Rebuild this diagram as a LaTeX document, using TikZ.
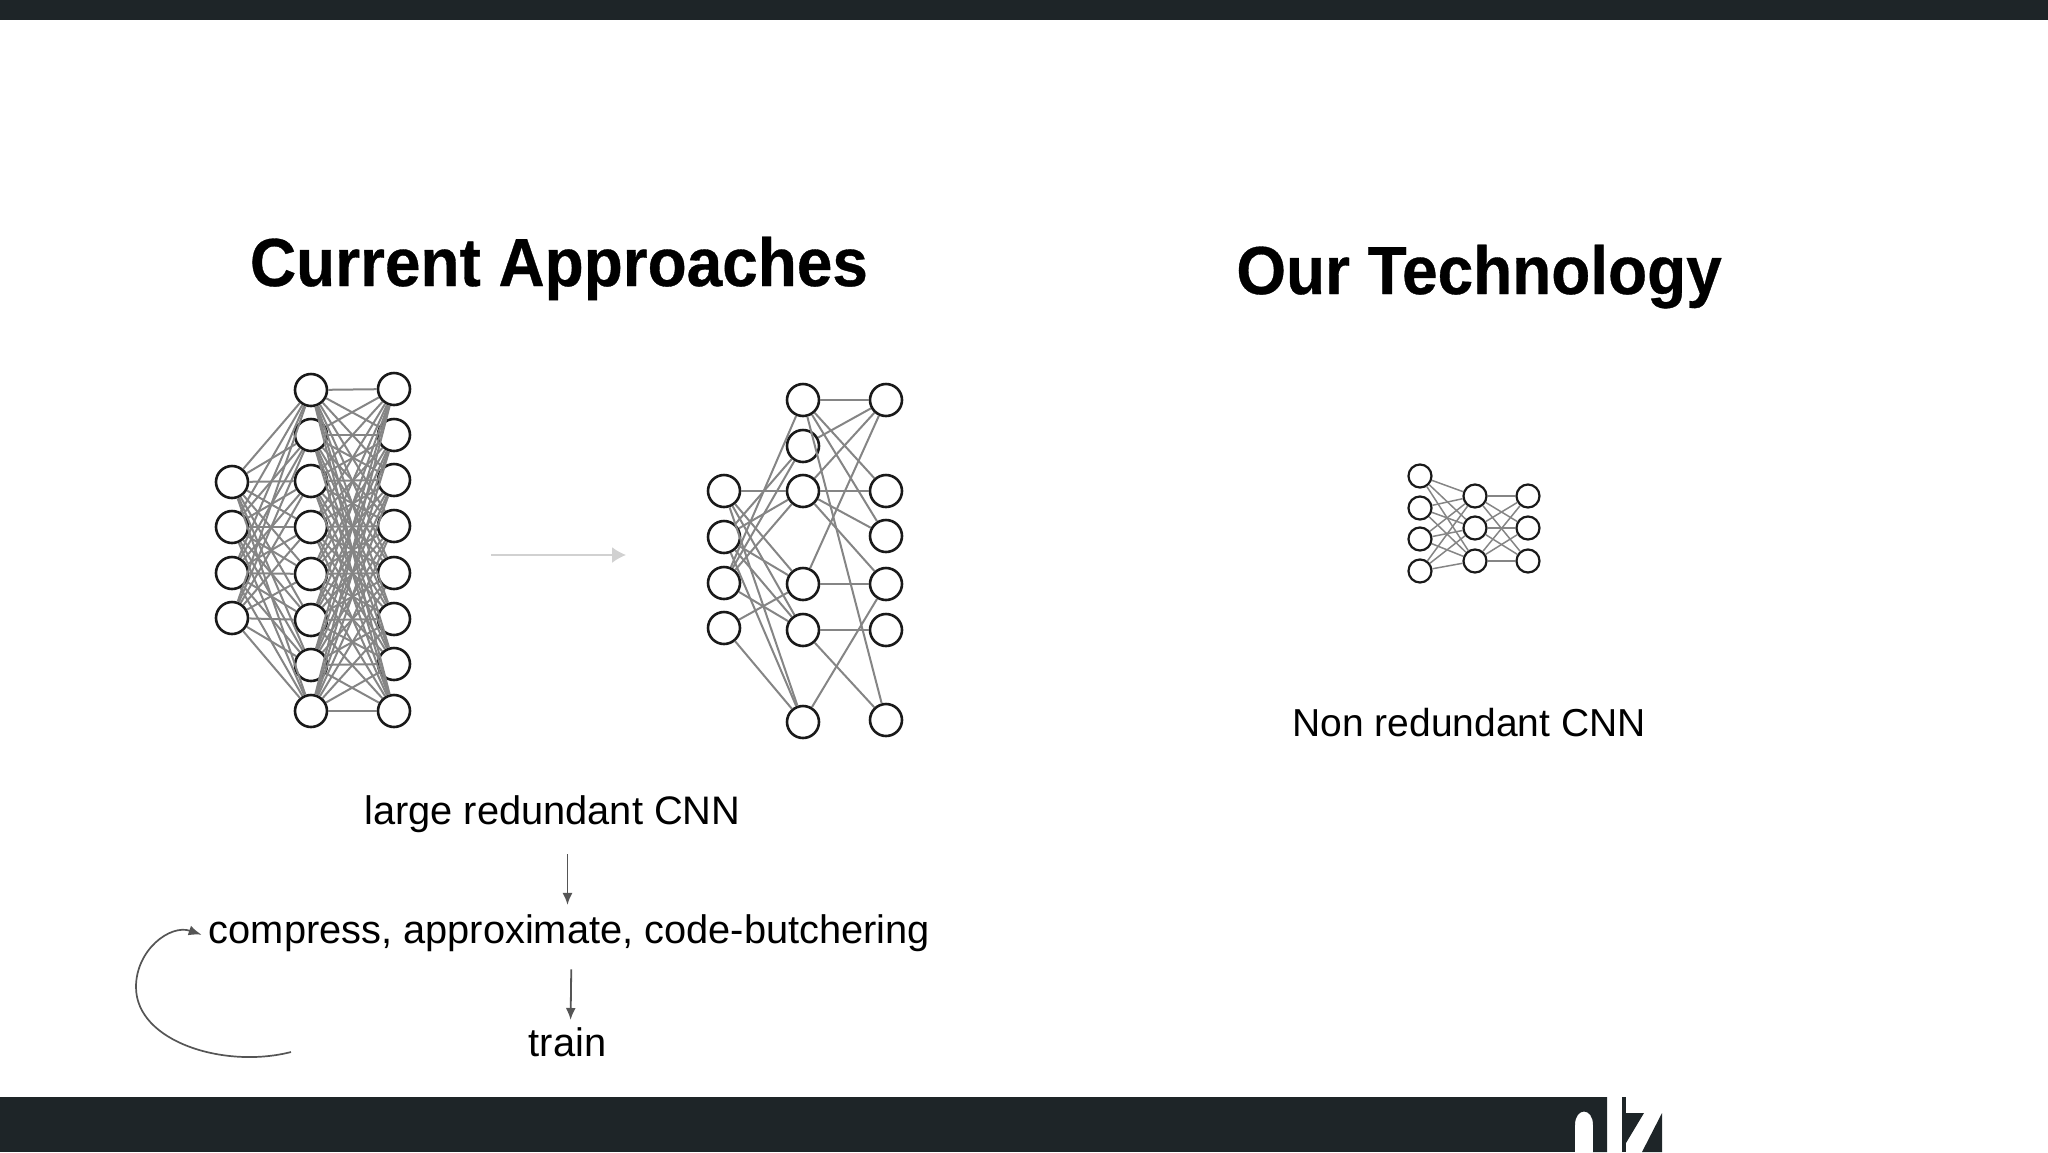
\documentclass[tikz,border=0pt]{standalone}
\usepackage{fontspec}
\setmainfont{Liberation Sans}
\newfontfamily\titlefont[FakeStretch=0.94,FakeBold=0.5]{Liberation Sans Bold}
\usepackage{xcolor}
\usetikzlibrary{arrows.meta}
\definecolor{barcolor}{HTML}{1E2528}
\definecolor{edgecolor}{HTML}{858585}
\definecolor{flowcolor}{HTML}{555555}

\begin{document}
\begin{tikzpicture}[x=1pt, y=-1pt,
    neuron/.style={draw=black!90, circle, line width=2.6pt, minimum size=32pt, inner sep=0pt},
    small neuron/.style={neuron, line width=2.2pt, minimum size=23pt},
    edge/.style={draw=edgecolor, line width=2pt},
    flow/.style={draw=flowcolor, line width=1.8pt, -{Latex[length=12pt, width=10pt]}},
    title/.style={anchor=base, inner sep=0pt, font=\fontsize{68}{80}\titlefont},
    label/.style={anchor=base, inner sep=0pt, font=\fontsize{39.8}{46}\selectfont}]
    \useasboundingbox (0,0) rectangle (2048,1152);

    \fill[barcolor] (0,0) rectangle (2048,20);
    \fill[barcolor] (0,1097) rectangle (1575,1152);
    \fill[barcolor] (1575,1097) -- (1607,1097) -- (1607,1152) -- (1593,1152) -- (1593,1125) .. controls (1593,1107) and (1575,1107) .. (1575,1125) -- cycle;
    \fill[barcolor] (1622,1097) rectangle (1626,1152);
    \fill[barcolor] (1626,1113) -- (1644,1113) -- (1626,1143) -- cycle;
    \fill[barcolor] (1662,1113) -- (1662,1152) -- (1642,1152) -- cycle;

    \node[title] (current) at (559,286) {Current Approaches};
    \node[title] (ours) at (1479,294) {Our Technology};

    \foreach \y [count=\i] in {482,527,573,618} \node[neuron] (a\i) at (232,\y) {};
    \foreach \y [count=\i] in {390,435,481,527,574,620,665,711} \node[neuron] (b\i) at (311,\y) {};
    \foreach \y [count=\i] in {389,435,480,526,573,619,664,711} \node[neuron] (c\i) at (394,\y) {};
    \foreach \i in {1,...,4} \foreach \j in {1,...,8} \draw[edge] (a\i) -- (b\j);
    \foreach \i in {1,...,8} \foreach \j in {1,...,8} \draw[edge] (b\i) -- (c\j);

    \coordinate (shrinkstart) at (491,555);
    \coordinate (shrinkend) at (626,555);
    \draw[draw=black!18, line width=1.6pt, -{Latex[length=14pt, width=16pt]}] (shrinkstart) -- (shrinkend);

    \foreach \y [count=\i] in {491,537,583,628} \node[neuron] (d\i) at (724,\y) {};
    \foreach \y [count=\i] in {400,446,491,584,630,722} \node[neuron] (e\i) at (803,\y) {};
    \foreach \y [count=\i] in {400,491,536,584,630,720} \node[neuron] (f\i) at (886,\y) {};
    \foreach \i/\j in {1/3,1/4,1/5,1/6,2/2,2/3,2/4,2/5,2/6,3/1,3/2,3/3,3/5,4/4,4/6} \draw[edge] (d\i) -- (e\j);
    \foreach \i/\j in {1/1,1/2,1/3,1/6,2/1,3/1,3/2,3/3,3/4,4/1,4/4,5/5,5/6,6/4} \draw[edge] (e\i) -- (f\j);

    \foreach \y [count=\i] in {476,508,539,571} \node[small neuron] (g\i) at (1420,\y) {};
    \foreach \y [count=\i] in {496,528,561} \node[small neuron] (h\i) at (1475,\y) {};
    \foreach \y [count=\i] in {496,528,561} \node[small neuron] (k\i) at (1528,\y) {};
    \foreach \i in {1,...,4} \foreach \j in {1,...,3} \draw[edge, line width=1.5pt] (g\i) -- (h\j);
    \foreach \i in {1,...,3} \foreach \j in {1,...,3} \draw[edge, line width=1.5pt] (h\i) -- (k\j);

    \node[label] (large) at (552.5,824) {large redundant CNN};
    \node[label] (compress) at (569.5,943) {compress, approximate, code-butchering};
    \node[label] (train) at (567.5,1056) {train};
    \node[label, font=\fontsize{39}{46}\selectfont] (nonred) at (1469,736) {Non redundant CNN};

    \draw[flow, shorten <=22pt, shorten >=9pt] ([xshift=-2pt]large.south -| compress.north) -- ([xshift=-2pt]compress.north);
    \draw[flow, shorten <=18pt, shorten >=7pt] ([xshift=2pt]compress.south) -- ([xshift=3pt]train.north);
    \coordinate (loopstart) at (291,1052);
    \draw[flow, line width=1.7pt, -{Latex[length=13pt, width=10pt]}] (loopstart) .. controls (225,1069) and (136,1042) .. (136,987) .. controls (136,950) and (170,924) .. ([xshift=-7pt,yshift=-2pt]compress.west);

\end{tikzpicture}
\end{document}
